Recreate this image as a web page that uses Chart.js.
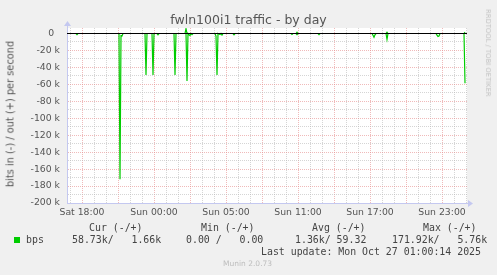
<!DOCTYPE html>
<html>
<head>
<meta charset="utf-8">
<script src="https://cdn.jsdelivr.net/npm/chart.js@4/dist/chart.umd.min.js"></script>
<style>
  html, body { margin: 0; padding: 0; background: #f0f0f0; }
  #wrap { position: relative; width: 497px; height: 275px; overflow: hidden; }
  #chart { position: absolute; left: 0; top: 0; }
  .t { position: absolute; white-space: pre; line-height: 1; }
  .mono { font-family: 'DejaVu Sans Mono', monospace; font-size: 9.9px; color: #444; }
  #title { left: 0; width: 497px; text-align: center; top: 12px; font: 12.5px 'DejaVu Sans', sans-serif; color: #555; }
  #ytitle { left: 10px; top: 114px; transform: translate(-50%, -50%) rotate(-90deg); font: 9.8px 'DejaVu Sans', sans-serif; color: #555; }
  #rrd { left: 488px; top: 53px; transform: translate(-50%, -50%) rotate(90deg); font: 6.8px 'DejaVu Sans', sans-serif; color: #c4c4c4; }
  #munin { left: 223px; top: 259px; font: 7.5px 'DejaVu Sans', sans-serif; color: #bdbdbd; }
  #swatch { position: absolute; left: 14px; top: 237px; width: 6px; height: 6px; background: #00cc00; }
</style>
</head>
<body>
<div id="wrap">
  <canvas id="chart" width="497" height="275"></canvas>
  <div class="t" id="title">fwln100i1 traffic - by day</div>
  <div class="t" id="ytitle">bits in (-) / out (+) per second</div>
  <div class="t" id="rrd">RRDTOOL / TOBI OETIKER</div>
  <div class="t mono" style="left:89px; top:223px;">Cur (-/+)</div>
  <div class="t mono" style="left:201px; top:223px;">Min (-/+)</div>
  <div class="t mono" style="left:312px; top:223px;">Avg (-/+)</div>
  <div class="t mono" style="left:423px; top:223px;">Max (-/+)</div>
  <div id="swatch"></div>
  <div class="t mono" style="left:26px; top:235px;">bps</div>
  <div class="t mono" style="left:72px; top:235px;">58.73k/   1.66k</div>
  <div class="t mono" style="left:186px; top:235px;">0.00 /   0.00</div>
  <div class="t mono" style="left:295px; top:235px;">1.36k/ 59.32</div>
  <div class="t mono" style="left:392px; top:235px;">171.92k/   5.76k</div>
  <div class="t mono" style="left:261px; top:247px;">Last update: Mon Oct 27 01:00:14 2025</div>
  <div class="t" id="munin">Munin 2.0.73</div>
</div>
<script>
// time axis: minutes since Sat 18:00, one sample every 5 min (one pixel)
const xStart = -75, xEnd = 1925;
const yMin = -200000, yMax = 6500;

const tickMinutes = [0, 360, 720, 1080, 1440, 1800];
const tickLabels = ['Sat 18:00', 'Sun 00:00', 'Sun 05:00', 'Sun 11:00', 'Sun 17:00', 'Sun 23:00'];

// in (drawn below zero)
const inTimes = [-75, -30, -25, -20,
  185, 190, 195, 200, 205,
  315, 320, 325, 350, 355, 360, 375, 380, 385,
  460, 465, 470,
  520, 525, 530, 535, 540, 545, 550, 555,
  665, 670, 675, 680, 690, 695, 700, 705, 755, 760, 765,
  1045, 1050, 1055, 1070, 1075, 1080, 1180, 1185, 1190,
  1450, 1455, 1460, 1465, 1470, 1520, 1525, 1530,
  1770, 1775, 1780, 1785, 1790, 1910, 1915];
const inBits = [0, 0, 1200, 0,
  0, 171920, 2500, 3000, 0,
  0, 49000, 0, 0, 49000, 0, 0, 1500, 0,
  0, 49000, 0,
  0, 56000, 0, 1500, 2500, 0, 1200, 0,
  0, 3000, 49000, 0, 1200, 0, 1800, 0, 0, 1500, 0,
  0, 1000, 0, 0, 1200, 0, 0, 1200, 0,
  0, 2000, 4500, 1500, 0, 0, 7000, 0,
  0, 2000, 3500, 3000, 0, 0, 58730];

// out (drawn above zero)
const outTimes = [-75, 515, 520, 525, 1070, 1075, 1080, 1520, 1525, 1530, 1910, 1915];
const outBits = [0, 0, 5760, 0, 0, 1500, 0, 0, 1500, 0, 0, 1660];

const majorGrid = 'rgba(230,140,140,0.6)';
const minorGrid = 'rgba(185,185,185,0.6)';

Chart.defaults.font.family = 'DejaVu Sans';

const plotBg = {
  id: 'plotBg',
  beforeDraw(c) {
    const a = c.chartArea, g = c.ctx;
    g.save();
    g.fillStyle = '#ffffff';
    g.fillRect(a.left, a.top, a.right - a.left, a.bottom - a.top);
    g.restore();
  }
};

const arrows = {
  id: 'arrows',
  afterDraw(c) {
    const a = c.chartArea, g = c.ctx;
    g.save();
    g.fillStyle = '#c4c8f0';
    g.strokeStyle = '#c4c8f0';
    g.beginPath();
    g.moveTo(a.left + 0.5, a.top); g.lineTo(a.left + 0.5, a.top - 3); g.stroke();
    g.beginPath();
    g.moveTo(a.left - 3, a.top - 2); g.lineTo(a.left + 4, a.top - 2); g.lineTo(a.left + 0.5, a.top - 7); g.closePath(); g.fill();
    g.beginPath();
    g.moveTo(a.right, a.bottom + 0.5); g.lineTo(a.right + 2, a.bottom + 0.5); g.stroke();
    g.beginPath();
    g.moveTo(a.right + 1, a.bottom - 3); g.lineTo(a.right + 1, a.bottom + 4); g.lineTo(a.right + 6, a.bottom + 0.5); g.closePath(); g.fill();
    g.restore();
  }
};

new Chart(document.getElementById('chart'), {
  type: 'line',
  data: {
    datasets: [{
      label: 'zero',
      data: [{ x: xStart, y: 0 }, { x: xEnd, y: 0 }],
      borderColor: '#000000',
      borderWidth: 1,
      order: 0
    }, {
      label: 'in',
      data: inTimes.map((t, i) => ({ x: t, y: -inBits[i] })),
      borderColor: '#00cc00',
      borderWidth: 1.2,
      order: 1
    }, {
      label: 'out',
      data: outTimes.map((t, i) => ({ x: t, y: outBits[i] })),
      borderColor: '#00cc00',
      borderWidth: 1.2,
      order: 2
    }]
  },
  options: {
    responsive: false,
    animation: false,
    devicePixelRatio: 1,
    layout: { padding: { top: 28, right: 30, bottom: 0, left: 0 } },
    elements: { point: { radius: 0 }, line: { tension: 0 } },
    plugins: { legend: { display: false }, tooltip: { enabled: false } },
    scales: {
      x: {
        type: 'linear',
        min: xStart,
        max: xEnd,
        afterFit: s => { s.height = 72; },
        afterBuildTicks: s => {
          const t = [];
          for (let m = -60; m <= 1920; m += 60) t.push({ value: m });
          s.ticks = t;
        },
        grid: {
          drawTicks: false,
          color: c => (c.tick && c.tick.value % 180 === 0) ? majorGrid : minorGrid
        },
        border: { color: '#c4c8f0', dash: [1, 1] },
        ticks: {
          padding: 4,
          maxRotation: 0,
          autoSkip: false,
          color: '#555',
          font: { size: 9.3 },
          callback: v => {
            const i = tickMinutes.indexOf(v);
            return i >= 0 ? tickLabels[i] : '';
          }
        }
      },
      y: {
        min: yMin,
        max: yMax,
        afterFit: s => { s.width = 67; },
        afterBuildTicks: s => {
          const t = [];
          for (let v = yMin; v <= 0; v += 10000) t.push({ value: v });
          s.ticks = t;
        },
        grid: {
          drawTicks: false,
          color: c => (c.tick && c.tick.value % 20000 === 0) ? majorGrid : minorGrid
        },
        border: { color: '#c4c8f0', dash: [1, 1] },
        ticks: {
          padding: 7,
          autoSkip: false,
          color: '#555',
          font: { size: 9.3 },
          callback: v => {
            if (v % 20000 !== 0) return '';
            return v === 0 ? '0  ' : (v / 1000) + ' k';
          }
        }
      }
    }
  },
  plugins: [plotBg, arrows]
});
</script>
</body>
</html>
